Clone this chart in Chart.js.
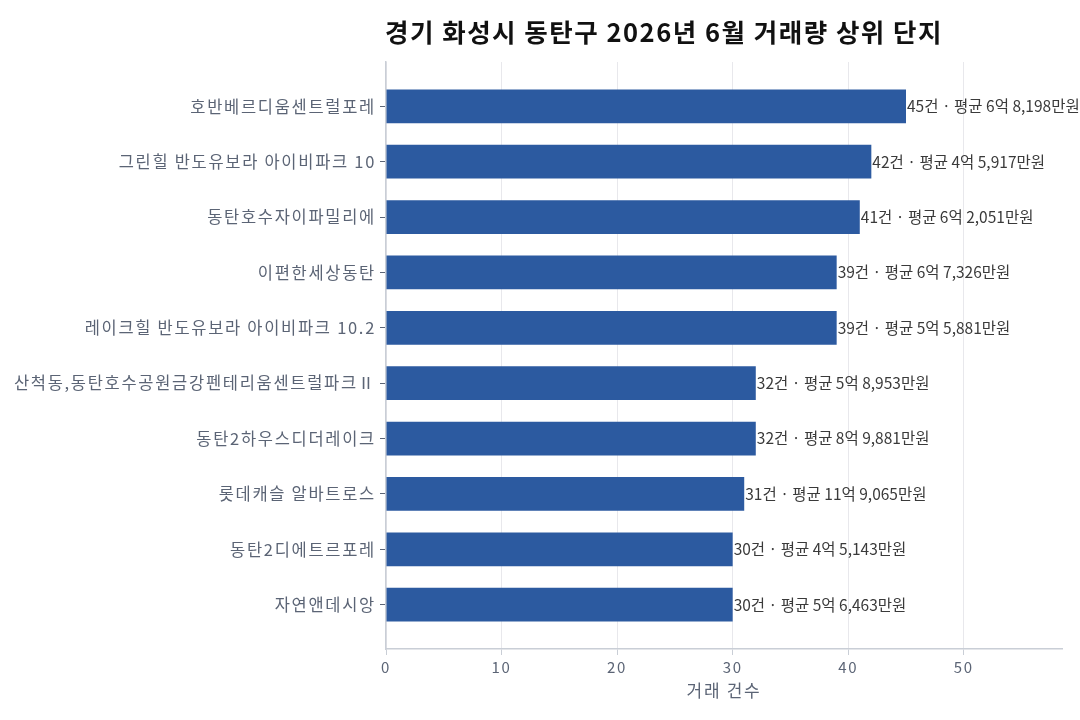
<!DOCTYPE html>
<html>
<head>
<meta charset="utf-8">
<script src="https://cdn.jsdelivr.net/npm/chart.js@4"></script>
<style>
  html, body { margin: 0; padding: 0; background: #fff; }
  #wrap { width: 1080px; height: 720px; }
</style>
</head>
<body>
<div id="wrap"><canvas id="chart" width="1080" height="720"></canvas></div>
<script>
const titleText = "경기 화성시 동탄구 2026년 6월 거래량 상위 단지"
const names = [
  "호반베르디움센트럴포레",
  "그린힐 반도유보라 아이비파크 10",
  "동탄호수자이파밀리에",
  "이편한세상동탄",
  "레이크힐 반도유보라 아이비파크 10.2",
  "산척동,동탄호수공원금강펜테리움센트럴파크Ⅱ",
  "동탄2하우스디더레이크",
  "롯데캐슬 알바트로스",
  "동탄2디에트르포레",
  "자연앤데시앙"
]
const counts = [45, 42, 41, 39, 39, 32, 32, 31, 30, 30]
const avgPrices = [
  "6억 8,198만원",
  "4억 5,917만원",
  "6억 2,051만원",
  "6억 7,326만원",
  "5억 5,881만원",
  "5억 8,953만원",
  "8억 9,881만원",
  "11억 9,065만원",
  "4억 5,143만원",
  "5억 6,463만원"
]
const xTicks = [0, 10, 20, 30, 40, 50]

const font = "'Noto Sans CJK KR', 'Noto Sans', sans-serif"

// 글자 간격 (캔버스 크기 조정 때 초기화되므로 매번 다시 설정)
const spacing = {
  id: "spacing",
  beforeLayout(c) { c.ctx.letterSpacing = "1.7px" },
  beforeDraw(c) { c.ctx.letterSpacing = "1.7px" }
}

// 막대 끝 라벨
const barLabels = {
  id: "barLabels",
  afterDatasetsDraw(c) {
    const ctx = c.ctx
    const meta = c.getDatasetMeta(0)
    ctx.save()
    ctx.letterSpacing = "0px"
    ctx.font = "15.5px " + font
    ctx.fillStyle = "#3a3a3a"
    ctx.textBaseline = "middle"
    ctx.textAlign = "left"
    meta.data.forEach((bar, i) => {
      ctx.fillText(counts[i] + "건 · 평균 " + avgPrices[i], bar.x + 1, bar.y)
    })
    ctx.restore()
  }
}

// 제목
const titlePlugin = {
  id: "titlePlugin",
  afterDraw(c) {
    const ctx = c.ctx
    ctx.save()
    ctx.letterSpacing = "1.5px"
    ctx.font = "bold 25.5px " + font
    ctx.fillStyle = "#111111"
    ctx.textAlign = "center"
    ctx.textBaseline = "middle"
    ctx.fillText(titleText, 664, 32)
    ctx.restore()
  }
}

const ctx = document.getElementById("chart").getContext("2d")
const chart = new Chart(ctx, {
  type: "bar",
  data: {
    datasets: [{
      data: counts.map((v, i) => ({ x: v, y: i })),
      backgroundColor: "#2c5aa0",
      categoryPercentage: 1,
      barPercentage: 0.61
    }]
  },
  options: {
    indexAxis: "y",
    responsive: false,
    animation: false,
    layout: { padding: { top: 62, right: 18, left: 0, bottom: 0 } },
    plugins: {
      legend: { display: false },
      tooltip: { enabled: false }
    },
    scales: {
      y: {
        type: "linear",
        reverse: true,
        offset: false,
        min: -0.8,
        max: 9.8,
        afterBuildTicks: s => { s.ticks = names.map((_, i) => ({ value: i })) },
        afterFit: s => { s.width = 386 },
        ticks: {
          callback: v => names[v],
          color: "#5b6475",
          font: { size: 16.5, family: font },
          padding: 4
        },
        grid: { display: true, offset: false, drawOnChartArea: false, tickLength: 6, tickColor: "#5b6475" },
        border: { color: "#c9ced6", width: 1.5 }
      },
      x: {
        type: "linear",
        min: 0,
        max: 58.5,
        afterBuildTicks: s => { s.ticks = xTicks.map(v => ({ value: v })) },
        afterFit: s => { s.height = 71 },
        ticks: {
          color: "#5b6475",
          font: { size: 15, family: font },
          padding: 3
        },
        grid: { color: "#e8e8ec", tickColor: "#c9ced6", tickLength: 6 },
        border: { color: "#c9ced6", width: 1.5 },
        title: {
          display: true,
          text: "거래 건수",
          color: "#5b6475",
          font: { size: 17, family: font },
          padding: { top: 0, bottom: 19 }
        }
      }
    }
  },
  plugins: [spacing, barLabels, titlePlugin]
})
</script>
</body>
</html>
